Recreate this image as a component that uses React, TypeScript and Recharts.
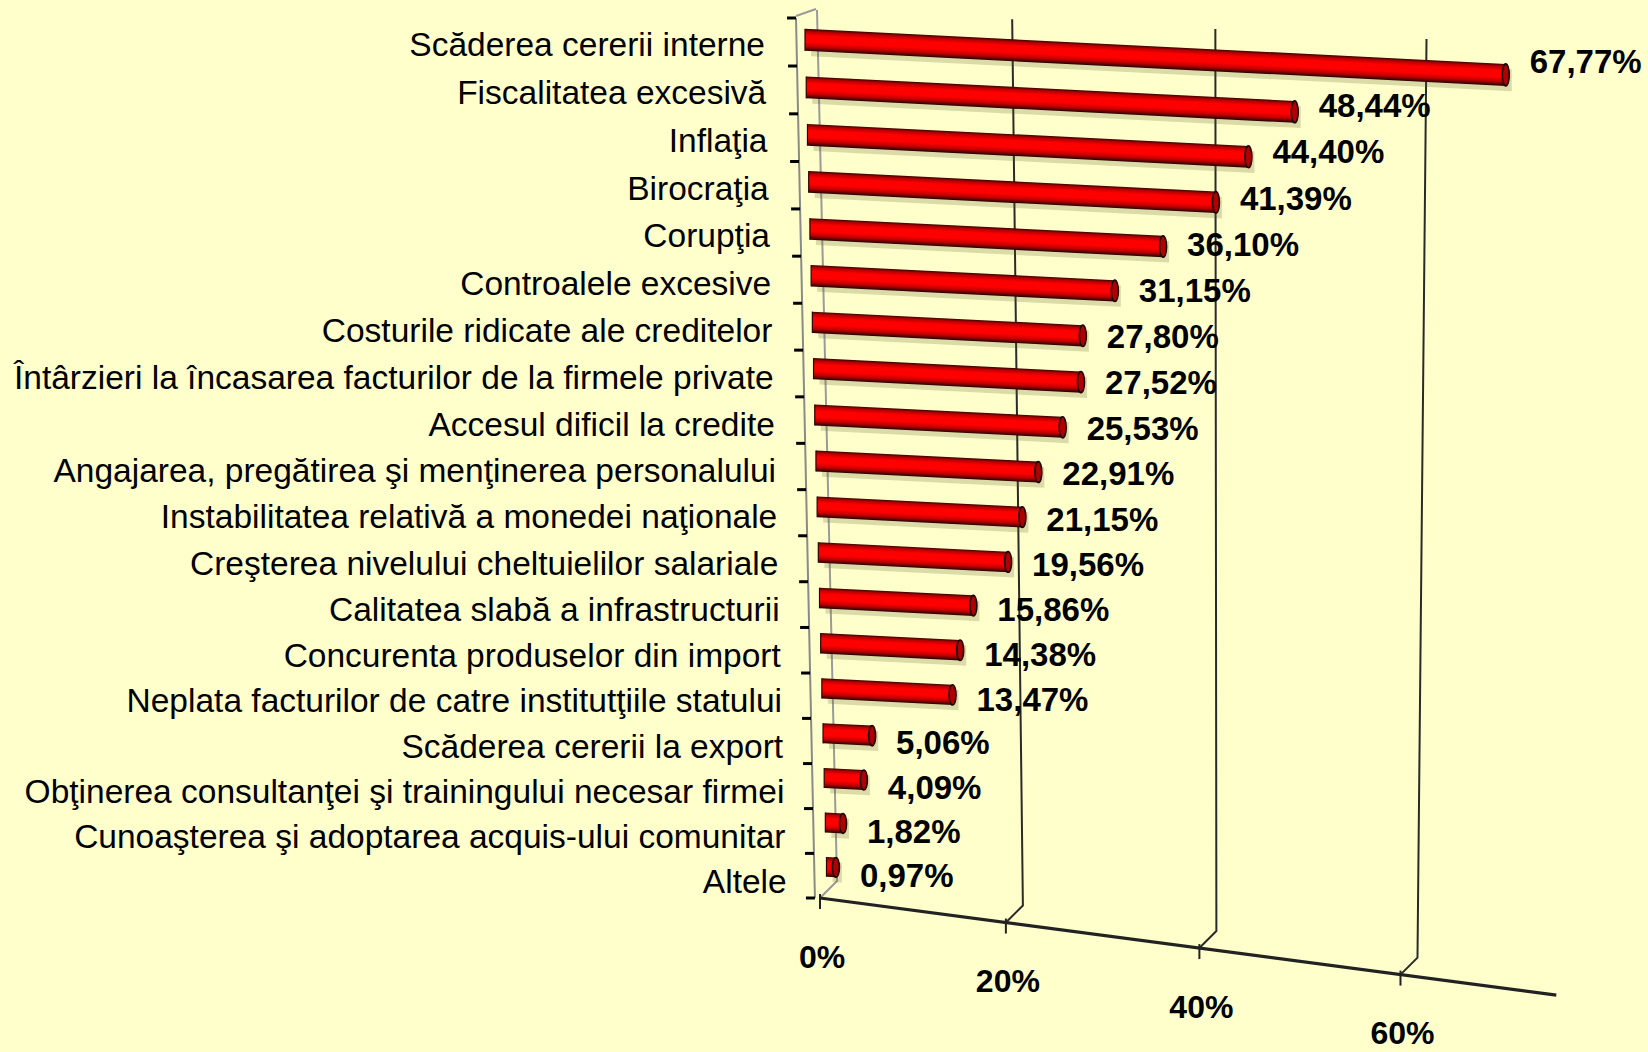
import React from 'react';
import { BarChart, Bar, XAxis, YAxis, CartesianGrid } from 'recharts';

const categories = [
  'Scăderea cererii interne',
  'Fiscalitatea excesivă',
  'Inflaţia',
  'Birocraţia',
  'Corupţia',
  'Controalele excesive',
  'Costurile ridicate ale creditelor',
  'Întârzieri la încasarea facturilor de la firmele private',
  'Accesul dificil la credite',
  'Angajarea, pregătirea şi menţinerea personalului',
  'Instabilitatea relativă a monedei naţionale',
  'Creşterea nivelului cheltuielilor salariale',
  'Calitatea slabă a infrastructurii',
  'Concurenta produselor din import',
  'Neplata facturilor de catre institutţiile statului',
  'Scăderea cererii la export',
  'Obţinerea consultanţei şi trainingului necesar firmei',
  'Cunoaşterea şi adoptarea acquis-ului comunitar',
  'Altele',
];

const values = [67.77, 48.44, 44.4, 41.39, 36.1, 31.15, 27.8, 27.52, 25.53, 22.91, 21.15, 19.56, 15.86, 14.38, 13.47, 5.06, 4.09, 1.82, 0.97];

const percentTicks = [0, 20, 40, 60];

const data = categories.map((name, i) => ({ name, value: values[i] }));

const W = 1648;
const H = 1052;
const MARGIN = { top: 18, right: 48, bottom: 54, left: 15 };
const Y_AXIS_W = 790;
const X_AXIS_H = 100;
const X_PAD_R = 19;
const PLOT_LEFT = MARGIN.left + Y_AXIS_W;
const PLOT_TOP = MARGIN.top;
const PLOT_BOTTOM = H - MARGIN.bottom - X_AXIS_H;
const BAND = (PLOT_BOTTOM - PLOT_TOP) / categories.length;
const BAR_PPP = (W - MARGIN.right - X_PAD_R - PLOT_LEFT) / 80;
const FLOOR_X0 = PLOT_LEFT + 15;
const FLOOR_PPP = 9.675;
const MAX_GRID = 60;
const FONT = '"Liberation Sans", Arial, sans-serif';

const SLOPE = 0.05;
const ANG = (Math.atan(SLOPE) * 180) / Math.PI;

// perspective helpers (applied to positions coming from the scales)
const warpY = (y: number) => y + 4.4e-5 * (y - PLOT_TOP) * (PLOT_BOTTOM - y);
const floorX = (x: number) => {
  const u = ((x - PLOT_LEFT) * FLOOR_PPP) / BAR_PPP;
  return FLOOR_X0 + u * 0.941 + u * u * 0.0001016;
};
const floorY = (fx: number) => PLOT_BOTTOM + (fx - FLOOR_X0) * 0.132;
const axisX = (yy: number) => PLOT_LEFT - 9 + (yy - PLOT_TOP) * 0.0215;

const fmt = (v: number) => v.toFixed(2).replace('.', ',') + '%';

function BarShape(props: any) {
  const { y, height, width, index, payload } = props;
  const yc = warpY(y + height / 2);
  const cy = yc - 2 - (yc - 42) * 0.008;
  const sx = PLOT_LEFT + (cy - 40) * 0.026;
  const m = 1 + 0.066 * Math.pow(0.6, index);
  const len = Math.max(width * m, 2);
  const h = 22 - index * 0.12;
  const endX = sx + len;
  const gid = `cyl-${index}`;
  return (
    <g>
      <defs>
        <linearGradient id={gid} x1="0" y1="0" x2="0" y2="1">
          <stop offset="0" stopColor="#3a0000" />
          <stop offset="0.12" stopColor="#b80000" />
          <stop offset="0.3" stopColor="#ff0000" />
          <stop offset="0.6" stopColor="#ff0000" />
          <stop offset="0.8" stopColor="#c00000" />
          <stop offset="1" stopColor="#220000" />
        </linearGradient>
      </defs>
      <g transform={`translate(${sx},${cy}) skewY(${ANG})`}>
        <rect x={6} y={-h / 2 + 5} width={len} height={h} fill="rgba(90,90,40,0.22)" />
        <rect x={0} y={-h / 2} width={len} height={h} fill={`url(#${gid})`} />
        <line x1={0} y1={-h / 2} x2={0} y2={h / 2} stroke="#300000" strokeWidth={1.2} />
        <ellipse cx={len} cy={0} rx={3.5} ry={h / 2} fill="#b00000" stroke="#1a0000" strokeWidth={1.6} />
      </g>
      <text
        x={endX + 24}
        y={cy + 8.4 + 0.019 * len}
        dy="0.36em"
        fontFamily={FONT}
        fontWeight="bold"
        fontSize={33}
        fill="#000"
      >
        {fmt(payload.value)}
      </text>
    </g>
  );
}

function CategoryTick(props: any) {
  const { y, payload, index } = props;
  const wy = warpY(y);
  const ty = wy + 2 + (wy - 42) * 0.0036;
  const rx = PLOT_LEFT - 40 + (wy - 42) * 0.026;
  const topB = warpY(y - BAND / 2);
  const botB = warpY(y + BAND / 2);
  const last = index === categories.length - 1;
  return (
    <g>
      {index === 0 && (
        <line x1={axisX(topB)} y1={topB - 2} x2={axisX(topB) + 20} y2={topB - 9} stroke="#9a9a9a" strokeWidth={2} />
      )}
      <line x1={axisX(topB)} y1={topB} x2={axisX(botB)} y2={botB} stroke="#8a8a8a" strokeWidth={2} />
      <line x1={axisX(topB) - 9} y1={topB} x2={axisX(topB)} y2={topB} stroke="#000" strokeWidth={3} />
      {last && <line x1={axisX(botB) - 9} y1={botB} x2={axisX(botB)} y2={botB} stroke="#000" strokeWidth={3} />}
      <text x={rx} y={ty} dy="0.36em" textAnchor="end" fontFamily={FONT} fontSize={33.5} fill="#000">
        {payload.value}
      </text>
    </g>
  );
}

function FloorTick(props: any) {
  const { x, payload, index } = props;
  const fx = floorX(x);
  const fy = floorY(fx);
  const endFx = floorX(PLOT_LEFT + 75 * BAR_PPP);
  return (
    <g>
      {index === 0 && (
        <line x1={fx} y1={fy} x2={endFx} y2={floorY(endFx)} stroke="#222" strokeWidth={3.2} />
      )}
      <line x1={fx} y1={fy - 4} x2={fx} y2={fy + 11} stroke="#222" strokeWidth={2} />
      <text
        x={fx + 2}
        y={fy + 58}
        dy="0.36em"
        textAnchor="middle"
        fontFamily={FONT}
        fontWeight="bold"
        fontSize={32}
        fill="#000"
      >
        {`${payload.value}%`}
      </text>
    </g>
  );
}

function GridLine(props: any) {
  const { x1, index } = props;
  const v = (x1 - PLOT_LEFT) / BAR_PPP;
  if (v > MAX_GRID + 1 || v < -1) return <g key={`grid-v-${index}`} />;
  const fx = floorX(x1);
  const fy = floorY(fx);
  const u = fx - FLOOR_X0;
  const tx = fx - 3 + u * 0.05;
  const ty = 10 + u * 0.05;
  const isZero = Math.abs(v) < 0.5;
  return (
    <path
      key={`grid-v-${index}`}
      d={`M${tx},${ty} L${fx + 17},${fy - 17} L${fx},${fy}`}
      stroke={isZero ? '#9a9a9a' : '#2a2a2a'}
      strokeWidth={2}
      fill="none"
    />
  );
}

export default function App() {
  return (
    <div style={{ position: 'absolute', left: 0, top: 0, width: W, height: H, background: '#FFFFCC' }}>
      <BarChart width={W} height={H} data={data} layout="vertical" margin={MARGIN} barCategoryGap={0}>
        <CartesianGrid horizontal={false} vertical={GridLine as any} />
        <XAxis
          type="number"
          domain={[0, 80]}
          ticks={percentTicks}
          interval={0}
          padding={{ left: 0, right: X_PAD_R }}
          axisLine={false}
          tickLine={false}
          height={X_AXIS_H}
          tick={<FloorTick />}
        />
        <YAxis
          type="category"
          dataKey="name"
          width={Y_AXIS_W}
          interval={0}
          axisLine={false}
          tickLine={false}
          tick={<CategoryTick />}
        />
        <Bar dataKey="value" barSize={22} shape={<BarShape />} isAnimationActive={false} />
      </BarChart>
    </div>
  );
}
